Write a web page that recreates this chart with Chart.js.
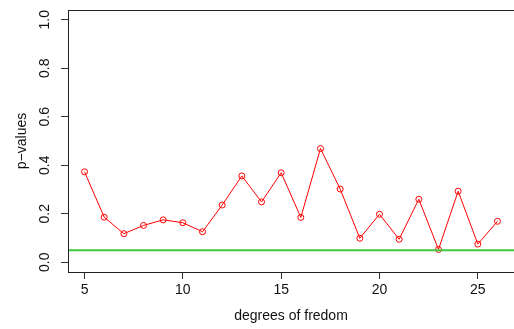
<!DOCTYPE html>
<html>
<head>
<meta charset="utf-8">
<script src="https://cdn.jsdelivr.net/npm/chart.js@4/dist/chart.umd.min.js"></script>
<style>
  html, body { margin: 0; padding: 0; background: #fff; }
  #wrap { width: 514px; height: 329px; position: relative; }
</style>
</head>
<body>
<div id="wrap"><canvas id="chart"></canvas></div>
<script>
// degrees of freedom vs p-values
var degrees = [5, 6, 7, 8, 9, 10, 11, 12, 13, 14, 15, 16, 17, 18, 19, 20, 21, 22, 23, 24, 25, 26];
var pValues = [0.373, 0.186, 0.118, 0.152, 0.175, 0.163, 0.126, 0.236, 0.356, 0.249, 0.369,
  0.185, 0.469, 0.302, 0.099, 0.198, 0.095, 0.260, 0.053, 0.293, 0.075, 0.169];
var threshold = 0.05;
var xTicks = [5, 10, 15, 20, 25];
var yTicks = [0, 0.2, 0.4, 0.6, 0.8, 1.0];

var font = "'Liberation Sans', Arial, sans-serif";

// R-style 4% axis extension
var xPad = (26 - 5) * 0.04;
var xMin = 5 - xPad, xMax = 26 + xPad;

var boxPlugin = {
  id: "box",
  afterDraw: function (chart) {
    var ctx = chart.ctx;
    var a = chart.chartArea;
    ctx.save();
    ctx.strokeStyle = "#222";
    ctx.lineWidth = 1;
    ctx.strokeRect(a.left + 0.5, a.top + 0.5, a.right - a.left, a.bottom - a.top);
    // rotated y tick labels like base R
    var y = chart.scales.y;
    ctx.fillStyle = "#111";
    ctx.font = "14px " + font;
    ctx.textAlign = "center";
    ctx.textBaseline = "middle";
    yTicks.forEach(function (v) {
      ctx.save();
      ctx.translate(45, y.getPixelForValue(v));
      ctx.rotate(-Math.PI / 2);
      ctx.fillText(v.toFixed(1), 0, 0);
      ctx.restore();
    });
    ctx.restore();
  },
};

new Chart(document.getElementById("chart"), {
  type: "line",
  data: {
    datasets: [
      {
        label: "threshold",
        data: [
          { x: xMin, y: threshold },
          { x: xMax, y: threshold },
        ],
        borderColor: "#3cc83c",
        borderWidth: 2,
        pointRadius: 0,
        order: 0,
      },
      {
        label: "p-values",
        data: degrees.map((d, i) => ({ x: d, y: pValues[i] })),
        borderColor: "#ff0000",
        borderWidth: 1,
        pointRadius: 3,
        pointBorderWidth: 1,
        pointBackgroundColor: "rgba(0,0,0,0)",
        pointBorderColor: "#ff0000",
        order: 1,
      },
    ],
  },
  options: {
    responsive: true,
    maintainAspectRatio: false,
    animation: false,
    layout: {
      autoPadding: false,
      padding: { top: 10, right: 0, bottom: 0, left: 0 },
    },
    plugins: {
      legend: { display: false },
      tooltip: { enabled: false },
    },
    scales: {
      x: {
        type: "linear",
        min: xMin,
        max: xMax,
        afterBuildTicks: function (scale) {
          scale.ticks = xTicks.map((v) => ({ value: v }));
        },
        afterFit: function (scale) {
          scale.height = 57;
          scale.paddingLeft = 0;
          scale.paddingRight = 0;
        },
        border: { display: false },
        grid: { drawOnChartArea: false, drawTicks: true, tickLength: 7, color: "#333" },
        ticks: {
          padding: 3,
          color: "#111",
          font: { family: font, size: 14 },
          maxRotation: 0,
          callback: (v) => String(v),
        },
        title: {
          display: true,
          text: "degrees of fredom",
          color: "#111",
          font: { family: font, size: 14 },
          padding: { top: 0, bottom: 4.6 },
        },
      },
      y: {
        type: "linear",
        min: -0.04,
        max: 1.04,
        afterBuildTicks: function (scale) {
          scale.ticks = yTicks.map((v) => ({ value: v }));
        },
        afterFit: function (scale) {
          scale.width = 68;
          scale.paddingTop = 0;
          scale.paddingBottom = 0;
        },
        border: { display: false },
        grid: { drawOnChartArea: false, drawTicks: true, tickLength: 7, color: "#333" },
        ticks: { display: false },
        title: {
          display: true,
          text: "p\u2212values",
          color: "#111",
          font: { family: font, size: 14 },
          padding: { top: 14.1, bottom: 0 },
        },
      },
    },
  },
  plugins: [boxPlugin],
});
</script>
</body>
</html>
